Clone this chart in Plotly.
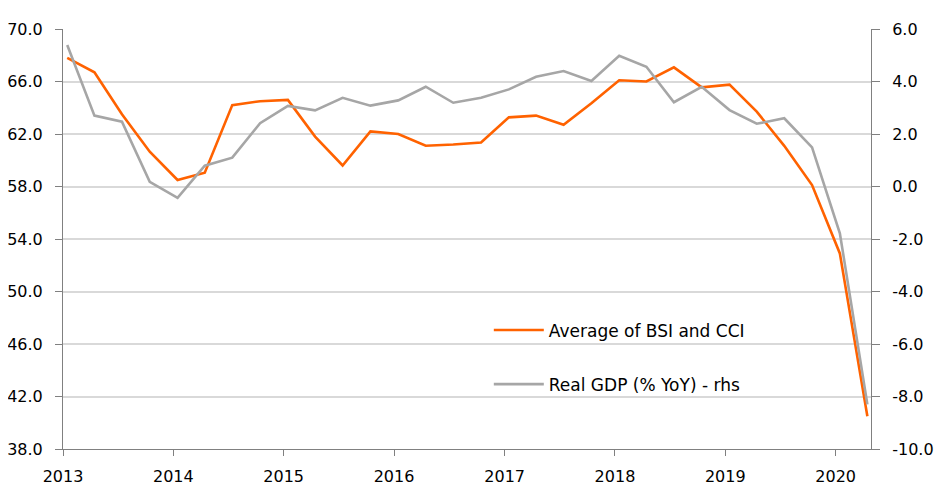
import plotly.graph_objects as go

quarters = ["2013-01-15", "2013-04-15", "2013-07-15", "2013-10-15",
            "2014-01-15", "2014-04-15", "2014-07-15", "2014-10-15",
            "2015-01-15", "2015-04-15", "2015-07-15", "2015-10-15",
            "2016-01-15", "2016-04-15", "2016-07-15", "2016-10-15",
            "2017-01-15", "2017-04-15", "2017-07-15", "2017-10-15",
            "2018-01-15", "2018-04-15", "2018-07-15", "2018-10-15",
            "2019-01-15", "2019-04-15", "2019-07-15", "2019-10-15",
            "2020-01-15", "2020-04-15"]

bsi_cci_avg = [67.8, 66.7, 63.5, 60.65, 58.5, 59.05, 64.2, 64.5,
               64.6, 61.8, 59.6, 62.2, 62.0, 61.1, 61.2, 61.35,
               63.27, 63.4, 62.7, 64.34, 66.09, 66.0, 67.08, 65.55,
               65.76, 63.7, 61.1, 58.11, 52.9, 40.5]

real_gdp_yoy = [5.39, 2.70, 2.47, 0.18, -0.43, 0.79, 1.10, 2.41,
                3.07, 2.90, 3.38, 3.08, 3.28, 3.80, 3.19, 3.38,
                3.70, 4.18, 4.40, 4.02, 4.98, 4.56, 3.21, 3.80,
                2.91, 2.39, 2.60, 1.49, -1.78, -8.30]

left_ticks = [38, 42, 46, 50, 54, 58, 62, 66, 70]
right_ticks = [-10, -8, -6, -4, -2, 0, 2, 4, 6]
year_ticks = ["2013", "2014", "2015", "2016", "2017", "2018", "2019", "2020"]

series_names = ["Average of BSI and CCI", "Real GDP (% YoY) - rhs"]
ORANGE = "#FF6200"
GREY = "#A6A6A6"
FONT = "DejaVu Sans"

fig = go.Figure()
fig.add_trace(go.Scatter(x=quarters, y=bsi_cci_avg, mode="lines", name=series_names[0],
                         line=dict(color=ORANGE, width=2.6), legendgroup="a", yaxis="y"))
fig.add_trace(go.Scatter(x=quarters, y=real_gdp_yoy, mode="lines", name=series_names[1],
                         line=dict(color=GREY, width=2.6), legendgroup="b", yaxis="y2"))

# page body has an 8px default margin, so margins are offset accordingly
fig.update_layout(
    width=952, height=492,
    margin=dict(l=55, r=89, t=21, b=51),
    paper_bgcolor="white", plot_bgcolor="white",
    font=dict(family=FONT, size=16, color="#000000"),
    showlegend=True,
    legend=dict(x=0.527, y=0.218, xanchor="left", yanchor="middle",
                bgcolor="rgba(0,0,0,0)", traceorder="grouped", tracegroupgap=29,
                font=dict(size=17), itemwidth=50),
    xaxis=dict(type="date", range=["2013-01-01", "2020-04-27"],
               tickvals=[y + "-01-01" for y in year_ticks], ticktext=year_ticks,
               showgrid=False, showline=True, linecolor="#808080", linewidth=1,
               ticks="outside", ticklen=6, tickcolor="#808080", zeroline=False,
               ticklabelstandoff=7, automargin=False),
    yaxis=dict(range=[38, 70], tickvals=left_ticks,
               ticktext=[f"{v:.1f}" for v in left_ticks],
               showgrid=True, gridcolor="#D9D9D9", gridwidth=2,
               showline=True, linecolor="#808080", linewidth=1,
               ticks="outside", ticklen=7, tickcolor="#808080", zeroline=False,
               ticklabelstandoff=9, automargin=False),
    yaxis2=dict(range=[-10, 6], tickvals=right_ticks,
                ticktext=[f"{v:.1f}" for v in right_ticks],
                overlaying="y", side="right", showgrid=False,
                showline=True, linecolor="#808080", linewidth=1,
                ticks="outside", ticklen=8, tickcolor="#808080", zeroline=False,
                ticklabelstandoff=9, automargin=False),
)

fig.write_html("out.html")
